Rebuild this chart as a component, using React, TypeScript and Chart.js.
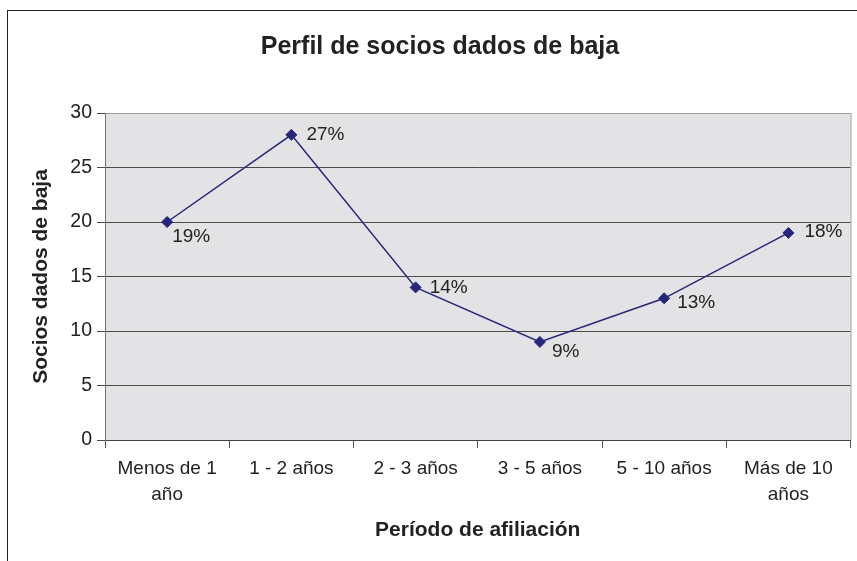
import React, { useEffect, useRef } from "react";
import { Chart, registerables } from "chart.js";

Chart.register(...registerables);

const categories: (string | string[])[] = [
  ["Menos de 1", "año"],
  "1 - 2 años",
  "2 - 3 años",
  "3 - 5 años",
  "5 - 10 años",
  ["Más de 10", "años"],
];
const socios = [20, 28, 14, 9, 13, 19];
const pctLabels = ["19%", "27%", "14%", "9%", "13%", "18%"];
const yTicks = [0, 5, 10, 15, 20, 25, 30];
const titleText = "Perfil de socios dados de baja";
const yTitle = "Socios dados de baja";
const xTitle = "Período de afiliación";

const FONT = "'Liberation Sans', Arial, sans-serif";
const labelOffsets = [
  [5, 15],
  [15, 0],
  [14, 0],
  [12, 10],
  [13, 4],
  [16, -1],
];

const decorPlugin = {
  id: "decor",
  beforeDraw(chart: any) {
    const { ctx, chartArea } = chart;
    ctx.save();
    ctx.fillStyle = "#ffffff";
    ctx.fillRect(0, 0, chart.width, chart.height);
    ctx.strokeStyle = "#222";
    ctx.lineWidth = 1;
    ctx.strokeRect(7.5, 10.5, 1000, 1000);
    ctx.fillStyle = "#e3e3e6";
    ctx.fillRect(chartArea.left, chartArea.top, chartArea.right - chartArea.left, chartArea.bottom - chartArea.top);
    ctx.restore();
  },
  afterDraw(chart: any) {
    const { ctx, chartArea } = chart;
    ctx.save();
    ctx.strokeStyle = "#999";
    ctx.lineWidth = 1;
    ctx.beginPath();
    ctx.moveTo(chartArea.right + 0.5, chartArea.top);
    ctx.lineTo(chartArea.right + 0.5, chartArea.bottom);
    ctx.stroke();

    ctx.fillStyle = "#222";
    ctx.textBaseline = "middle";
    ctx.textAlign = "center";
    ctx.font = `bold 25px ${FONT}`;
    ctx.fillText(titleText, 440, 47);

    ctx.font = `bold 21px ${FONT}`;
    ctx.fillText(xTitle, (chartArea.left + chartArea.right) / 2, 530);

    ctx.save();
    ctx.translate(41, (chartArea.top + chartArea.bottom) / 2);
    ctx.rotate(-Math.PI / 2);
    ctx.fillText(yTitle, 0, 0);
    ctx.restore();

    ctx.font = `19px ${FONT}`;
    ctx.textAlign = "left";
    const meta = chart.getDatasetMeta(0);
    meta.data.forEach((pt: any, i: number) => {
      const [dx, dy] = labelOffsets[i];
      ctx.fillText(pctLabels[i], pt.x + dx, pt.y + dy);
    });
    ctx.restore();
  },
};

export default function App() {
  const ref = useRef<HTMLCanvasElement>(null);
  useEffect(() => {
    if (!ref.current) return;
    const chart = new Chart(ref.current, {
      type: "line",
      data: {
        labels: categories,
        datasets: [
          {
            data: socios,
            borderColor: "#26267a",
            backgroundColor: "#26267a",
            borderWidth: 1.5,
            pointStyle: "rectRot",
            pointRadius: 5.5,
            pointBorderWidth: 1,
            tension: 0,
          },
        ],
      },
      options: {
        animation: false,
        responsive: false,
        layout: { padding: { top: 113, right: 5, left: 0, bottom: 0 } },
        plugins: {
          legend: { display: false },
          tooltip: { enabled: false },
          title: { display: false },
        },
        scales: {
          x: {
            offset: true,
            grid: {
              offset: true,
              drawOnChartArea: false,
              drawTicks: true,
              tickLength: 8,
              color: "#555",
              tickColor: "#555",
            },
            border: { display: true, color: "#444", width: 1 },
            ticks: {
              color: "#222",
              font: { family: FONT, size: 19, lineHeight: 1.36 },
              padding: 8,
              maxRotation: 0,
              autoSkip: false,
            },
            afterFit: (s: any) => {
              s.height = 121;
            },
          },
          y: {
            min: 0,
            max: 30,
            afterBuildTicks: (s: any) => {
              s.ticks = yTicks.map((v) => ({ value: v }));
            },
            grid: {
              color: (c: any) => (c.tick && c.tick.value === 30 ? "#9a9a9a" : "#4a4a4a"),
              tickColor: "#4a4a4a",
              tickLength: 8,
              lineWidth: 1,
            },
            border: { display: true, color: "#777", width: 1 },
            ticks: {
              color: "#222",
              font: { family: FONT, size: 19.5 },
              padding: 5,
            },
            afterFit: (s: any) => {
              s.width = 105;
            },
          },
        },
      },
      plugins: [decorPlugin],
    });
    return () => chart.destroy();
  }, []);
  return (
    <div style={{ position: "fixed", left: 0, top: 0, width: 857, height: 561 }}>
      <canvas ref={ref} width={857} height={561} style={{ display: "block" }} />
    </div>
  );
}
